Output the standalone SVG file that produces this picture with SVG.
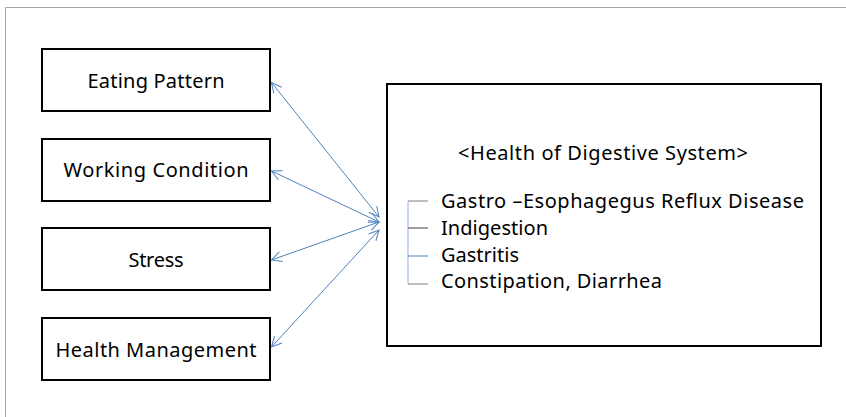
<svg xmlns="http://www.w3.org/2000/svg" width="846" height="417" viewBox="0 0 846 417">
<defs>
<style>
.box{fill:#fff;stroke:#000;stroke-width:2}
.lbl{font-family:"Noto Sans","Open Sans",sans-serif;font-size:20px;fill:#000}
.conn{stroke:#4f81bd;stroke-width:1;fill:none;marker-start:url(#ah);marker-end:url(#ah)}
</style>
<marker id="ah" viewBox="0 0 12 12" refX="11" refY="6" markerWidth="12" markerHeight="12" markerUnits="userSpaceOnUse" orient="auto-start-reverse">
<path d="M1,1 L11,6 L1,11" fill="none" stroke="#4f81bd" stroke-width="1"/>
</marker>
</defs>
<rect width="846" height="417" fill="#fff"/>
<path d="M5.5,417 V7.5 H846" fill="none" stroke="#a6a6a6" stroke-width="1"/>
<g id="eating">
<rect class="box" x="42" y="49" width="228" height="62"/>
<text class="lbl" x="156" y="88" text-anchor="middle" textLength="137">Eating Pattern</text>
</g>
<g id="working">
<rect class="box" x="42" y="139" width="228" height="62"/>
<text class="lbl" x="156" y="177" text-anchor="middle" textLength="185">Working Condition</text>
</g>
<g id="stress">
<rect class="box" x="42" y="228" width="228" height="62"/>
<text class="lbl" x="156" y="267" text-anchor="middle" textLength="55">Stress</text>
</g>
<g id="health">
<rect class="box" x="42" y="318" width="228" height="62"/>
<text class="lbl" x="156" y="357" text-anchor="middle" textLength="201">Health Management</text>
</g>
<g id="digestive">
<rect class="box" x="387" y="84" width="434" height="262"/>
<text class="lbl" x="603" y="160" text-anchor="middle" textLength="290">&lt;Health of Digestive System&gt;</text>
<path d="M408,201 V284" stroke="#95b3d7" stroke-width="1" fill="none"/>
<path d="M408,201 H428" stroke="#808080" stroke-width="1"/>
<path d="M408,228 H428" stroke="#404040" stroke-width="1"/>
<path d="M408,256 H428" stroke="#4f81bd" stroke-width="1"/>
<path d="M408,284 H428" stroke="#808080" stroke-width="1"/>
<text class="lbl" x="441" y="208" textLength="363">Gastro –Esophagegus Reflux Disease</text>
<text class="lbl" x="441" y="235" textLength="107">Indigestion</text>
<text class="lbl" x="441" y="262">Gastritis</text>
<text class="lbl" x="441" y="288" textLength="221">Constipation, Diarrhea</text>
</g>
<g id="connectors">
<line class="conn" x1="271.5" y1="82.5" x2="379" y2="217"/>
<line class="conn" x1="271.5" y1="171" x2="379" y2="222"/>
<line class="conn" x1="271.5" y1="260" x2="379" y2="222"/>
<line class="conn" x1="271.5" y1="347" x2="379" y2="230"/>
</g>
</svg>
